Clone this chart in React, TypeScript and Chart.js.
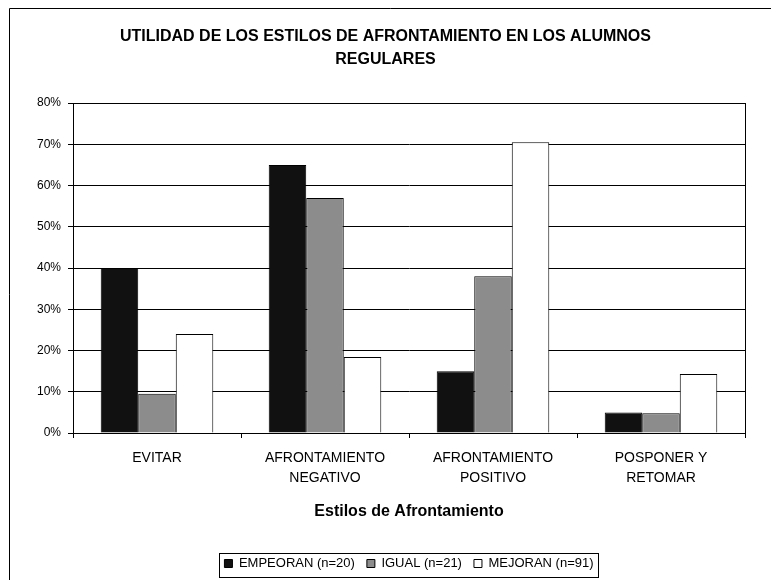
import React, { useEffect, useRef } from "react";
import { Chart, registerables } from "chart.js";

Chart.register(...registerables);

const categories: string[][] = [
  ["EVITAR"],
  ["AFRONTAMIENTO", "NEGATIVO"],
  ["AFRONTAMIENTO", "POSITIVO"],
  ["POSPONER Y", "RETOMAR"],
];
const empeoran = [40, 65, 15, 5];
const igual = [9.5, 57, 38, 4.8];
const mejoran = [24, 18.4, 70.5, 14.3];
const seriesNames = ["EMPEORAN (n=20)", "IGUAL (n=21)", "MEJORAN (n=91)"];
const titleLines = ["UTILIDAD DE LOS ESTILOS DE AFRONTAMIENTO EN LOS ALUMNOS", "REGULARES"];
const axisTitle = "Estilos de Afrontamiento";
const yTicks = [0, 10, 20, 30, 40, 50, 60, 70, 80];

const FONT = "'Liberation Sans', Arial, sans-serif";

const framePlugin = {
  id: "frame",
  beforeDraw(chart: any) {
    const ctx = chart.ctx;
    ctx.save();
    ctx.fillStyle = "#fff";
    ctx.fillRect(0, 0, chart.width, chart.height);
    ctx.strokeStyle = "#000";
    ctx.lineWidth = 1;
    ctx.beginPath();
    ctx.moveTo(9.5, chart.height);
    ctx.lineTo(9.5, 8.5);
    ctx.lineTo(chart.width, 8.5);
    ctx.stroke();
    ctx.restore();
  },
  afterDraw(chart: any) {
    const ctx = chart.ctx;
    const a = chart.chartArea;
    ctx.save();
    ctx.strokeStyle = "#000";
    ctx.lineWidth = 1;
    ctx.strokeRect(Math.round(a.left) + 0.5, Math.round(a.top) + 0.5, Math.round(a.right - a.left), Math.round(a.bottom - a.top));
    const hb = chart.legend && chart.legend.legendHitBoxes;
    if (hb && hb.length) {
      let l = Infinity, r = -Infinity, t = Infinity, b = -Infinity;
      hb.forEach((h: any) => {
        l = Math.min(l, h.left);
        r = Math.max(r, h.left + h.width);
        t = Math.min(t, h.top);
        b = Math.max(b, h.top + h.height);
      });
      ctx.strokeRect(Math.round(l - 5) + 0.5, Math.round(t - 4) + 0.5, Math.round(r - l + 10), Math.round(b - t + 11));
    }
    ctx.restore();
  },
};

export default function App() {
  const ref = useRef<HTMLCanvasElement>(null);
  useEffect(() => {
    if (!ref.current) return;
    Chart.defaults.color = "#000";
    Chart.defaults.font.family = FONT;
    const chart = new Chart(ref.current, {
      type: "bar",
      data: {
        labels: categories,
        datasets: [
          { label: seriesNames[0], data: empeoran, backgroundColor: "#111111", borderColor: "#000", borderWidth: 1 },
          { label: seriesNames[1], data: igual, backgroundColor: "#8c8c8c", borderColor: "#000", borderWidth: 1 },
          { label: seriesNames[2], data: mejoran, backgroundColor: "#ffffff", borderColor: "#000", borderWidth: 1 },
        ],
      },
      options: {
        responsive: false,
        animation: false,
        datasets: { bar: { categoryPercentage: 0.67, barPercentage: 1 } },
        layout: { padding: { top: 13, left: 26, right: 26, bottom: 0 } },
        plugins: {
          tooltip: { enabled: false },
          title: {
            display: true,
            text: titleLines,
            font: { size: 16, weight: "bold", lineHeight: 23 / 16 },
            padding: { top: 12, bottom: 32 },
            color: "#000",
          },
          legend: {
            position: "bottom",
            fullSize: false,
            labels: {
              boxWidth: 8,
              boxHeight: 8,
              padding: 12,
              font: { size: 13 },
              color: "#000",
            },
          },
        },
        scales: {
          x: {
            grid: { display: true, drawOnChartArea: false, drawTicks: true, tickLength: 5, color: "#000" },
            border: { color: "#000" },
            ticks: { font: { size: 14, lineHeight: 20 / 14 }, padding: 10, maxRotation: 0, autoSkip: false, color: "#000" },
            title: { display: true, text: axisTitle, font: { size: 16, weight: "bold", lineHeight: 1.2 }, padding: { top: 4, bottom: 24 }, color: "#000" },
            afterFit: (s: any) => { s.height = 112; },
          },
          y: {
            min: 0,
            max: 80,
            afterBuildTicks: (s: any) => { s.ticks = yTicks.map((v) => ({ value: v })); },
            grid: { color: "#000", lineWidth: 1, tickLength: 5 },
            border: { color: "#000" },
            ticks: { font: { size: 12 }, padding: 7, color: "#000", callback: (v: any) => v + "%" },
            afterFit: (s: any) => { s.width = 47; },
          },
        },
      },
      plugins: [framePlugin],
    });
    return () => chart.destroy();
  }, []);
  return (
    <div style={{ position: "fixed", left: 0, top: 0, width: 771, height: 580, background: "#fff" }}>
      <canvas ref={ref} width={771} height={580} style={{ width: 771, height: 580, display: "block" }} />
    </div>
  );
}
